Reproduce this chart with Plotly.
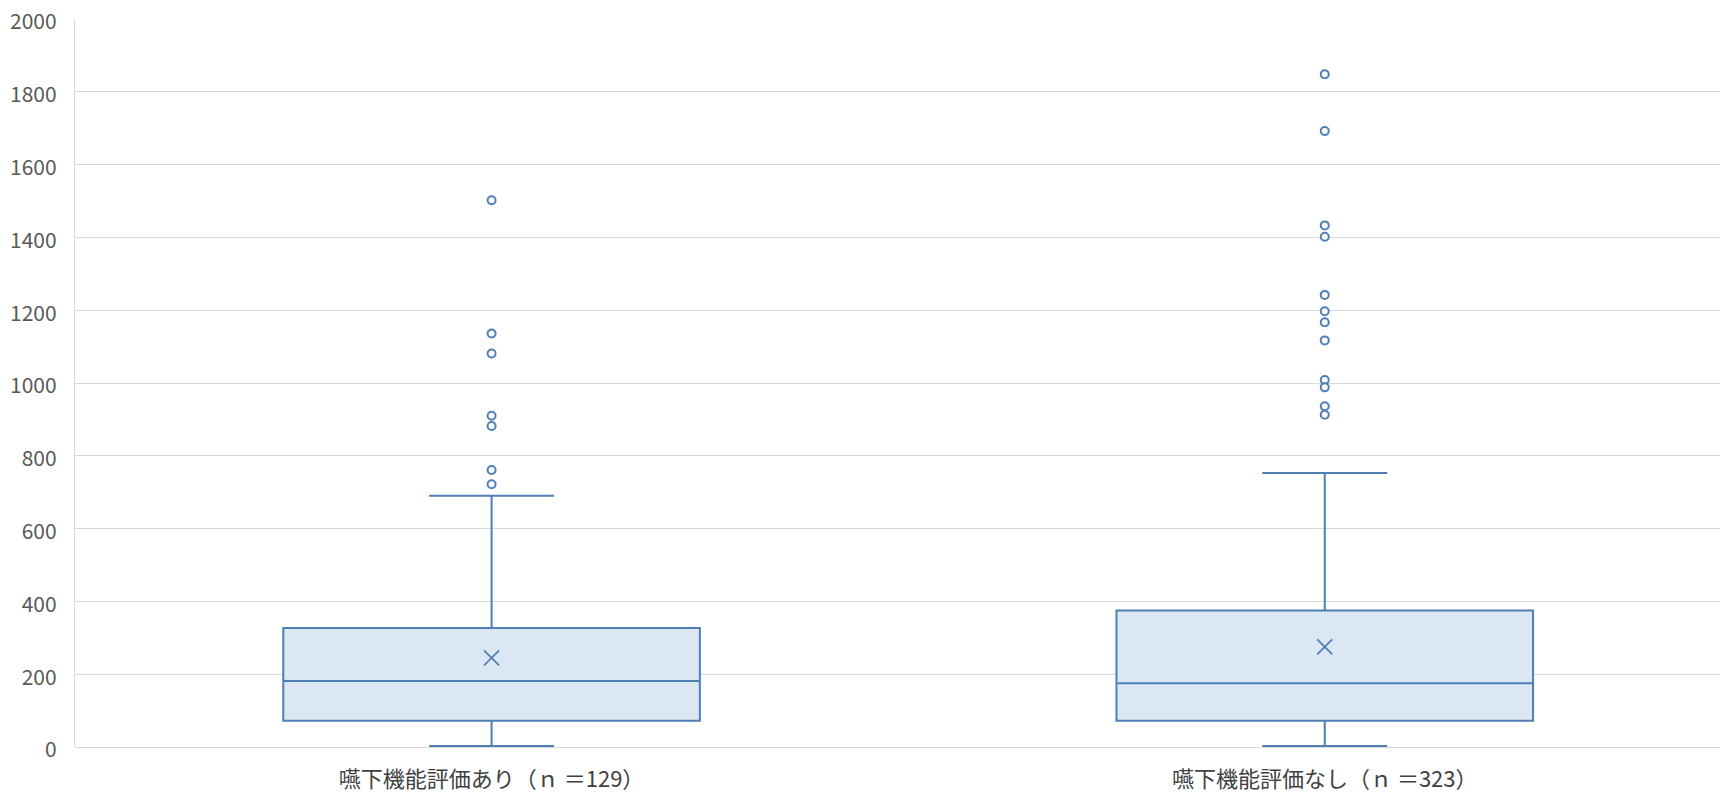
import plotly.graph_objects as go

categories = ["嚥下機能評価あり（ｎ ＝129）", "嚥下機能評価なし（ｎ ＝323）"]
q1 = [72, 72]
median = [181, 175]
q3 = [327, 375]
lower_whisker = [3, 3]
upper_whisker = [690, 753]
means = [245, 275]
outliers_1 = [1502, 1136, 1081, 910, 882, 761, 722]
outliers_2 = [1848, 1692, 1433, 1402, 1242, 1197, 1167, 1117, 1008, 988, 936, 913]

LINE = "#4f7fb5"
FILL = "#dce7f4"
FONT = "Noto Sans CJK JP"

fig = go.Figure()
fig.add_trace(go.Box(
    x=categories, q1=q1, median=median, q3=q3,
    lowerfence=lower_whisker, upperfence=upper_whisker,
    boxpoints=False, width=0.5, whiskerwidth=0.3,
    fillcolor=FILL, line=dict(color=LINE, width=2),
    showlegend=False, hoverinfo="skip",
))
fig.add_trace(go.Scatter(
    x=categories, y=means, mode="markers",
    marker=dict(symbol="x-thin-open", size=15, color=LINE, line=dict(color=LINE, width=1.8)),
    showlegend=False,
))
out_x = [categories[0]] * len(outliers_1) + [categories[1]] * len(outliers_2)
out_y = outliers_1 + outliers_2
fig.add_trace(go.Scatter(
    x=out_x, y=out_y, mode="markers",
    marker=dict(symbol="circle", size=8, color="white", line=dict(color=LINE, width=2)),
    showlegend=False,
))

fig.update_layout(
    width=1720, height=785,
    margin=dict(l=67, r=0, t=11, b=46, autoexpand=False),
    paper_bgcolor="white", plot_bgcolor="white",
    font=dict(family=FONT, color="#595959", size=21),
)
fig.update_xaxes(
    type="category", range=[-0.5, 1.484], automargin=False,
    showgrid=False, showline=False, ticks="",
    ticklabelstandoff=17, ticklabeloverflow="allow",
    tickfont=dict(size=22, color="#404040"),
)
fig.update_yaxes(
    range=[0, 2000], dtick=200, automargin=False,
    showgrid=True, gridcolor="#d9d9d9", gridwidth=1.3,
    showline=True, linecolor="#d9d9d9", linewidth=1.3,
    zeroline=True, zerolinecolor="#d9d9d9", zerolinewidth=1.3,
    ticks="", ticklabelstandoff=13, ticklabelshift=3, ticklabeloverflow="allow",
    tickfont=dict(size=21, color="#595959"),
)

fig.write_html("out.html")
